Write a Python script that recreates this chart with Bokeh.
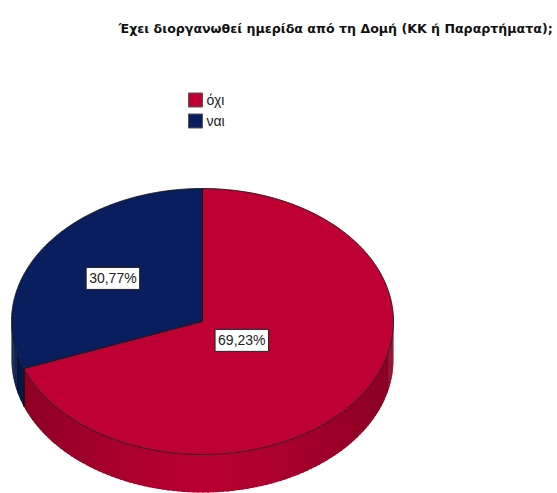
import numpy as np
from bokeh.plotting import figure
from bokeh.models import Range1d, Label
from bokeh.core.properties import value
from bokeh.embed import file_html
from bokeh.resources import INLINE

# ---- data ----
title_text = "Έχει διοργανωθεί ημερίδα από τη Δομή (ΚΚ ή Παραρτήματα);"
categories = ["όχι", "ναι"]
percents = [69.23, 30.77]
pct_labels = ["69,23%", "30,77%"]
colors = ["#BE0032", "#081E5E"]

# ---- layout (page pixel coordinates) ----
CX, CY, RX, RY, DEPTH = 202.0, 321.0, 191.0, 133.0, 38.0
START = 90.0                      # degrees, slices go counter-clockwise
draw_order = [1, 0]               # ναι first from the top, then όχι
label_frac = {0: 0.25, 1: 0.57}

W, H = 557, 493
p = figure(width=W, height=H, output_backend="svg", toolbar_location=None,
           x_range=Range1d(0, W), y_range=Range1d(H, 0),
           x_axis_location=None, y_axis_location=None, min_border=0,
           outline_line_color=None)
p.grid.visible = False
p.background_fill_color = "white"


def ex(t):
    return CX + RX * np.cos(np.radians(t))


def ey(t):
    return CY - RY * np.sin(np.radians(t))


def shade(hexc, f):
    h = hexc.lstrip("#")
    r, g, b = (int(h[i:i + 2], 16) for i in (0, 2, 4))
    return "#%02x%02x%02x" % (min(255, int(r * f)), min(255, int(g * f)), min(255, int(b * f)))


# compute slice angles
slices = {}
a = START
for i in draw_order:
    span = percents[i] / sum(percents) * 360.0
    slices[i] = (a, a + span)
    a += span

# ---- side walls (front half: angles 180..360 mod 360) ----
sx, sy, sc = [], [], []
edge_lines_x, edge_lines_y = [], []
for i in draw_order:
    a0, a1 = slices[i]
    for off in (0.0, 360.0):
        lo = max(a0, 180.0 + off)
        hi = min(a1, 360.0 + off)
        if hi <= lo:
            continue
        n = max(2, int((hi - lo) / 1.5))
        ts = np.linspace(lo, hi, n + 1)
        for k in range(n):
            t0, t1 = ts[k], min(hi, ts[k + 1] + 0.6)
            tm = 0.5 * (ts[k] + ts[k + 1])
            f = 0.72 + 0.24 * (1 - abs(np.cos(np.radians(tm))) ** 1.5)
            tt = np.linspace(t0, t1, 4)
            xs = list(ex(tt)) + list(ex(tt[::-1]))
            ys = list(ey(tt)) + list(ey(tt[::-1]) + DEPTH)
            sx.append(xs)
            sy.append(ys)
            sc.append(shade(colors[i], f))
        for t in (a0, a1):
            tt = t % 360.0
            if 180.0 < tt < 360.0:
                edge_lines_x.append([ex(t), ex(t)])
                edge_lines_y.append([ey(t), ey(t) + DEPTH])

p.patches(sx, sy, fill_color=sc, line_color=None)
p.multi_line(edge_lines_x, edge_lines_y, line_color="#111111", line_width=1)

# ---- top face ----
for i in draw_order:
    a0, a1 = slices[i]
    ts = np.linspace(a0, a1, 200)
    xs = [CX] + list(ex(ts))
    ys = [CY] + list(ey(ts))
    p.patch(xs, ys, fill_color=colors[i], line_color="#1a1a1a", line_width=0.9)

# ---- percentage labels ----
for i in draw_order:
    a0, a1 = slices[i]
    tm = 0.5 * (a0 + a1)
    fr = label_frac[i]
    lx = CX + fr * RX * np.cos(np.radians(tm))
    ly = CY - fr * RY * np.sin(np.radians(tm))
    p.add_layout(Label(x=lx, y=ly, text=pct_labels[i], text_align="center",
                       text_baseline="middle", text_font="Liberation Sans",
                       text_font_size="14px", text_color="#222222",
                       background_fill_color="white", border_line_color="#222222",
                       border_line_width=1, padding=3))

# ---- legend ----
lx0, ly0, dy = 195.0, 99.5, 21.0
for k, cat in enumerate(categories):
    yy = ly0 + k * dy
    p.rect(x=[lx0], y=[yy], width=14, height=14, fill_color=colors[k],
           line_color="#555555", line_width=1)
    p.text(x=[lx0 + 11], y=[yy], text=[cat], text_baseline="middle",
           text_font=value("Liberation Sans"), text_font_size="14px",
           text_color="#222222")

# ---- title ----
p.text(x=[118], y=[28], text=[title_text], text_baseline="middle",
       text_font=value("DejaVu Sans"), text_font_size="12.6px",
       text_font_style="bold", text_color="#111111")

open("out.html", "w").write(file_html(p, INLINE))
